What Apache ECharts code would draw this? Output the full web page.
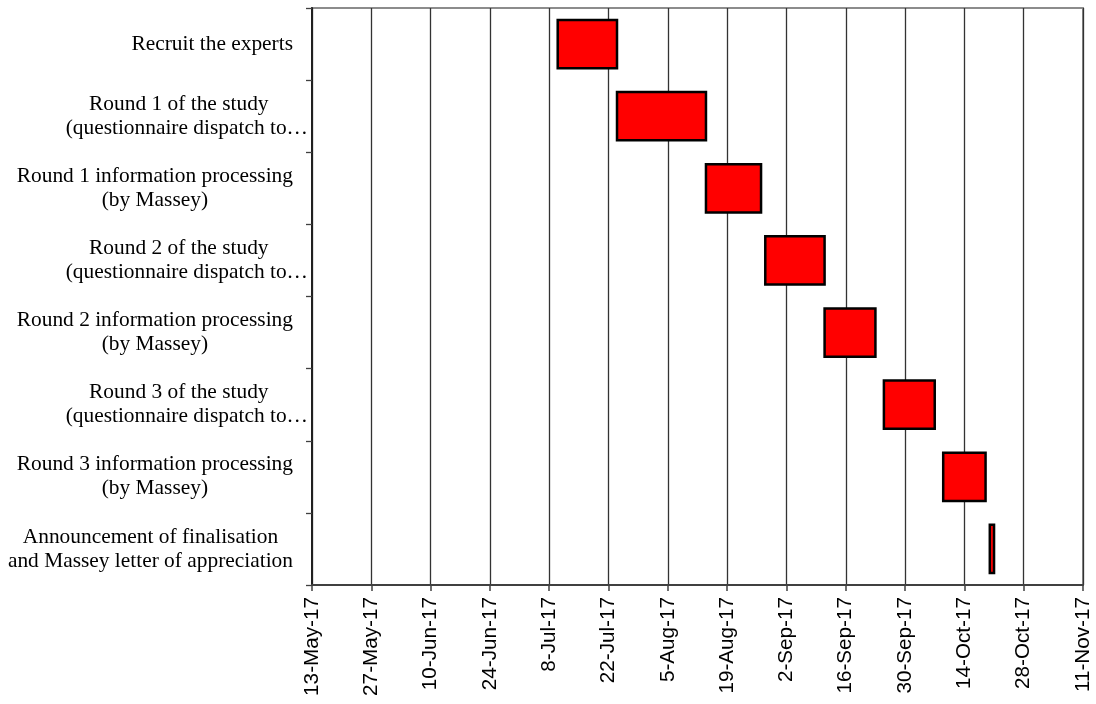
<!DOCTYPE html>
<html>
<head>
<meta charset="utf-8">
<script src="https://cdn.jsdelivr.net/npm/echarts@6/dist/echarts.min.js"></script>
<style>
  html, body { margin: 0; padding: 0; background: #ffffff; }
  #chart { width: 1096px; height: 704px; }
</style>
</head>
<body>
<div id="chart"></div>
<script>
// Project schedule for the expert study (Gantt view)
const tasks = [
  'Recruit the experts',
  'Round 1 of the study\n(questionnaire dispatch to…',
  'Round 1 information processing\n(by Massey)',
  'Round 2 of the study\n(questionnaire dispatch to…',
  'Round 2 information processing\n(by Massey)',
  'Round 3 of the study\n(questionnaire dispatch to…',
  'Round 3 information processing\n(by Massey)',
  'Announcement of finalisation\nand Massey letter of appreciation'
];
const startDates = ['2017-07-10', '2017-07-24', '2017-08-14', '2017-08-28',
                    '2017-09-11', '2017-09-25', '2017-10-09', '2017-10-20'];
const endDates   = ['2017-07-24', '2017-08-14', '2017-08-27', '2017-09-11',
                    '2017-09-23', '2017-10-07', '2017-10-19', '2017-10-21'];
const tickLabels = ['13-May-17', '27-May-17', '10-Jun-17', '24-Jun-17', '8-Jul-17',
                    '22-Jul-17', '5-Aug-17', '19-Aug-17', '2-Sep-17', '16-Sep-17',
                    '30-Sep-17', '14-Oct-17', '28-Oct-17', '11-Nov-17'];
const axisOrigin = '2017-05-13';
const tickStepDays = 14;

const DAY = 86400000;
function dayOffset(s) {
  return Math.round((Date.parse(s + 'T00:00:00Z') - Date.parse(axisOrigin + 'T00:00:00Z')) / DAY);
}
const barData = tasks.map((t, i) => [i, dayOffset(startDates[i]), dayOffset(endDates[i])]);

const serif = '"Liberation Serif", "Times New Roman", serif';
const labelSize = 21.4;

const chart = echarts.init(document.getElementById('chart'), null, { renderer: 'canvas' });

chart.setOption({
  animation: false,
  backgroundColor: '#ffffff',
  grid: {
    left: 312, right: 13, top: 8, bottom: 119,
    show: true, borderColor: '#8c8c8c', borderWidth: 2, backgroundColor: 'transparent'
  },
  xAxis: {
    type: 'value',
    min: 0,
    max: tickStepDays * (tickLabels.length - 1),
    interval: tickStepDays,
    axisLine: { show: true, onZero: false, lineStyle: { color: '#404040', width: 2 } },
    axisTick: { show: true, length: 6, lineStyle: { color: '#404040', width: 1.5 } },
    splitLine: { show: true, lineStyle: { color: '#333333', width: 1.3 } },
    axisLabel: {
      rotate: 90,
      margin: 12,
      color: '#000000',
      fontFamily: '"Liberation Sans", Arial, sans-serif',
      fontSize: 20.7,
      formatter: v => tickLabels[Math.round(v / tickStepDays)]
    }
  },
  yAxis: {
    type: 'category',
    data: tasks,
    inverse: true,
    axisLine: { show: true, lineStyle: { color: '#202020', width: 2 } },
    axisTick: { show: true, length: 6, lineStyle: { color: '#404040', width: 1.3 } },
    splitLine: { show: false },
    axisLabel: {
      margin: 4,
      color: '#000000',
      fontFamily: serif,
      fontSize: labelSize,
      formatter: (val) => {
        const lines = val.split('\n');
        const cut = lines.length > 1 && lines[1].endsWith('…');
        return lines.map((ln, k) => {
          const style = cut ? (k === 0 ? 't' : 'u') : 'n';
          return '{' + style + '|' + ln + '}';
        }).join('\n');
      },
      rich: {
        n: { align: 'center', lineHeight: 24, padding: [0, 15, 0, 0],
             fontFamily: serif, fontSize: labelSize, color: '#000' },
        t: { align: 'center', lineHeight: 24, padding: [0, 16, 0, 0],
             fontFamily: serif, fontSize: labelSize, color: '#000' },
        u: { align: 'center', lineHeight: 24,
             fontFamily: serif, fontSize: labelSize, color: '#000' }
      }
    }
  },
  series: [{
    type: 'custom',
    data: barData,
    encode: { x: [1, 2], y: 0 },
    renderItem: (params, api) => {
      const cat = api.value(0);
      const a = api.coord([api.value(1), cat]);
      const b = api.coord([api.value(2), cat]);
      const h = api.size([0, 1])[1] * 0.67;
      return {
        type: 'rect',
        shape: { x: a[0], y: a[1] - h / 2, width: b[0] - a[0], height: h },
        style: { fill: '#ff0000', stroke: '#000000', lineWidth: 2.5 }
      };
    }
  }]
});
</script>
</body>
</html>
